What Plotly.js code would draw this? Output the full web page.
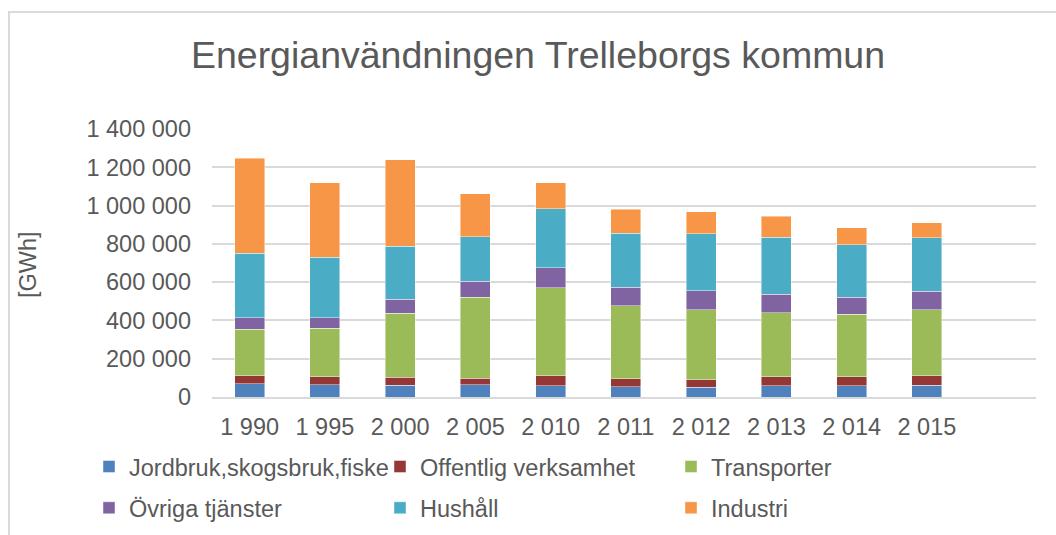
<!DOCTYPE html>
<html>
<head>
<meta charset="utf-8">
<script src="https://cdn.plot.ly/plotly-3.0.1.min.js"></script>
<style>
  html, body { margin: 0; padding: 0; background: #fff; }
  #wrap { position: relative; width: 1056px; height: 535px; overflow: hidden; }
  #chart { width: 1056px; height: 535px; }
  #frame { position: absolute; left: 8px; top: 11px; width: 1200px; height: 700px;
           border-left: 2px solid #d9d9d9; border-top: 2px solid #d9d9d9; pointer-events: none; }
</style>
</head>
<body>
<div id="wrap"><div id="chart"></div><div id="frame"></div></div>
<script>
const years = ['1 990','1 995','2 000','2 005','2 010','2 011','2 012','2 013','2 014','2 015'];
const jordbruk   = [70000, 65000, 61000, 65000, 60000, 54000, 52000, 60000, 60000, 61000];
const offentlig  = [40000, 40000, 43000, 34000, 50000, 42000, 39000, 45000, 45000, 49000];
const transporter= [243000, 253000, 334000, 421000, 461000, 381000, 365000, 336000, 327000, 346000];
const ovriga     = [61000, 55000, 72000, 85000, 104000, 96000, 99000, 97000, 90000, 97000];
const hushall    = [336000, 317000, 278000, 232000, 308000, 283000, 297000, 297000, 273000, 279000];
const industri   = [497000, 388000, 451000, 224000, 136000, 125000, 115000, 110000, 90000, 78000];

const seriesNames = ['Jordbruk,skogsbruk,fiske','Offentlig verksamhet','Transporter','Övriga tjänster','Hushåll','Industri'];
const seriesData = [jordbruk, offentlig, transporter, ovriga, hushall, industri];
const colors = ['#4F81BD','#953735','#9BBB59','#8064A2','#4BACC6','#F79646'];
const legendRef = ['legend','legend','legend','legend2','legend2','legend2'];

const traces = seriesNames.map((n, i) => ({
  type: 'bar',
  name: n,
  x: years,
  y: seriesData[i],
  marker: { color: colors[i], line: { color: 'rgba(255,255,255,0.55)', width: 0.8 } },
  legend: legendRef[i],
  hoverinfo: 'x+y+name'
}));

const txt = '#595959';
const fam = 'Liberation Sans, Arial, sans-serif';
const fs = 23.5;
const plotH = 535 - 129 - 138;
const plotW = 1056 - 212 - 20;

const layout = {
  width: 1056, height: 535,
  margin: { l: 212, r: 20, t: 129, b: 138, autoexpand: false },
  paper_bgcolor: '#fff', plot_bgcolor: '#fff',
  separators: ', ',
  barmode: 'stack',
  bargap: 0.6,
  font: { family: fam, color: txt, size: fs },
  title: {
    text: 'Energianvändningen Trelleborgs kommun',
    font: { family: fam, size: 37.5, color: txt },
    x: 538 / 1056, xanchor: 'center', xref: 'container',
    y: 1 - 55/535, yanchor: 'middle', yref: 'container'
  },
  xaxis: {
    type: 'category',
    categoryorder: 'array', categoryarray: years,
    range: [-0.5, 10.45],
    showgrid: false,
    showline: true, linecolor: '#d9d9d9', linewidth: 1.5,
    ticks: '', ticklabelstandoff: 8,
    tickfont: { family: fam, size: fs, color: txt },
    fixedrange: true, automargin: false
  },
  yaxis: {
    range: [0, 1400000],
    dtick: 200000,
    tickformat: ',d',
    showgrid: true, gridcolor: '#d9d9d9', gridwidth: 1.5,
    zeroline: false,
    showline: false,
    ticks: '', ticklabelstandoff: 20,
    tickfont: { family: fam, size: fs, color: txt },
    fixedrange: true, automargin: false
  },
  annotations: [{
    text: '[GWh]', textangle: -90,
    xref: 'paper', yref: 'paper',
    x: (28 - 212) / plotW, y: (397 - 265) / plotH,
    xanchor: 'center', yanchor: 'middle',
    showarrow: false,
    font: { family: fam, size: fs, color: txt }
  }],
  legend: {
    orientation: 'h',
    x: (89 - 212) / plotW, xanchor: 'left',
    y: (397 - 466.7) / plotH, yanchor: 'middle',
    entrywidth: 246, entrywidthmode: 'pixels',
    font: { family: fam, size: fs, color: txt },
    bgcolor: 'rgba(0,0,0,0)', traceorder: 'normal'
  },
  legend2: {
    orientation: 'h',
    x: (89 - 212) / plotW, xanchor: 'left',
    y: (397 - 508) / plotH, yanchor: 'middle',
    entrywidth: 246, entrywidthmode: 'pixels',
    font: { family: fam, size: fs, color: txt },
    bgcolor: 'rgba(0,0,0,0)', traceorder: 'normal'
  },
  showlegend: true
};

Plotly.newPlot('chart', traces, layout, { displayModeBar: false });
</script>
</body>
</html>
